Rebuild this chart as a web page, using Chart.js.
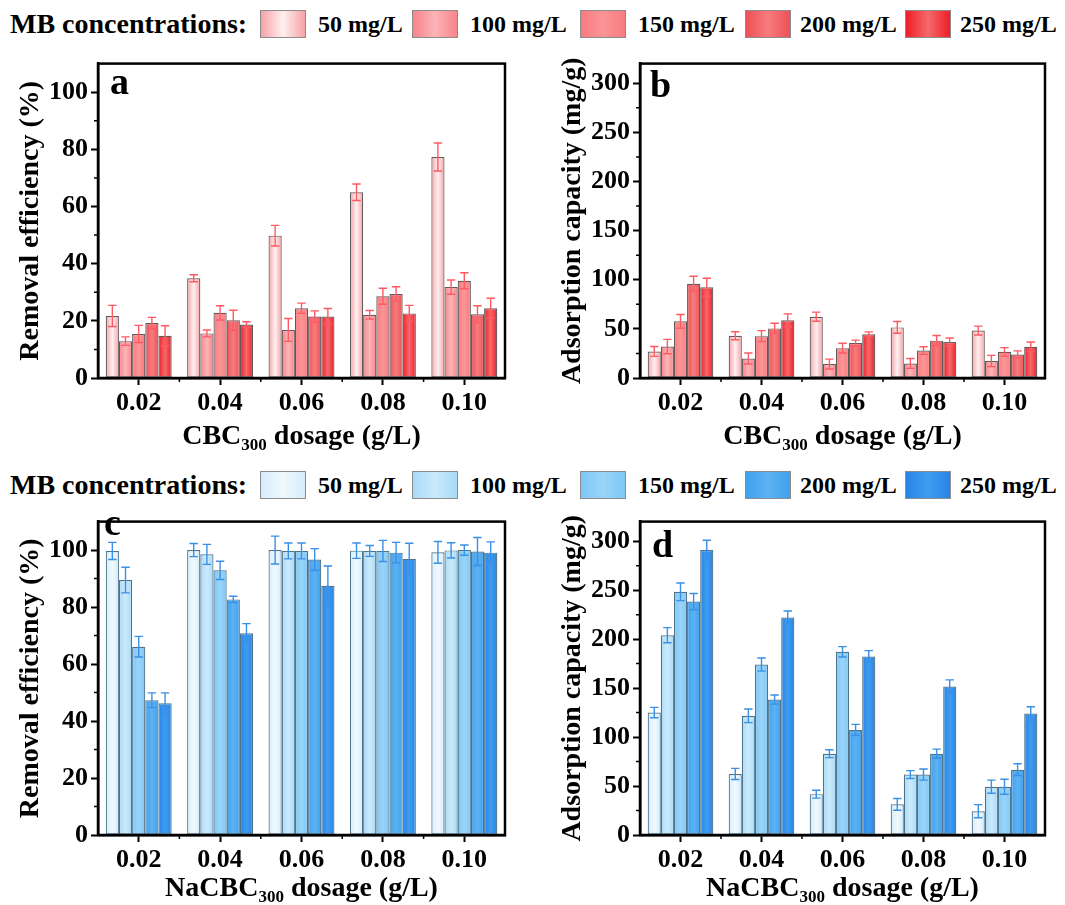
<!DOCTYPE html>
<html>
<head>
<meta charset="utf-8">
<script src="https://cdn.jsdelivr.net/npm/chart.js@4.4.1/dist/chart.umd.min.js"></script>
<style>
body { margin: 0; background: #fff; width: 1065px; height: 905px; position: relative; overflow: hidden;
       font-family: 'Liberation Serif', 'Times New Roman', serif; font-weight: bold; color: #000; }
.panel { position: absolute; }
.legend { position: absolute; left: 0; width: 1065px; height: 30px; }
.legend span { position: absolute; top: 0; line-height: 28px; white-space: nowrap; font-size: 24px; }
.legend .head { font-size: 28px; }
.legend .sw { position: absolute; top: 0; width: 46px; height: 28px; box-sizing: border-box; border: 1px solid #8c8c8c; }
</style>
</head>
<body>
<div class="legend" id="legTop" style="top:10px"></div>
<div class="legend" id="legBot" style="top:471px"></div>
<div class="panel" style="left:0;top:45px"><canvas id="pa" width="520" height="415"></canvas></div>
<div class="panel" style="left:540px;top:45px"><canvas id="pb" width="525" height="415"></canvas></div>
<div class="panel" style="left:0;top:503px"><canvas id="pc" width="520" height="402"></canvas></div>
<div class="panel" style="left:540px;top:503px"><canvas id="pd" width="525" height="402"></canvas></div>
<script>
// dosages on the x axis, MB concentrations as series
var dosages = ['0.02', '0.04', '0.06', '0.08', '0.10'];
var concentrations = ['50 mg/L', '100 mg/L', '150 mg/L', '200 mg/L', '250 mg/L'];

// a: CBC300 removal efficiency (%), one row per concentration
var removalCBC = [
    [21.7, 34.9, 49.8, 65.0, 77.3],
    [12.9, 15.6, 16.8, 22.1, 31.8],
    [15.4, 22.8, 24.4, 28.6, 34.0],
    [19.2, 20.2, 21.5, 29.4, 22.3],
    [14.8, 18.7, 21.5, 22.6, 24.4]
];
var removalCBCErr = [
    [3.7, 1.2, 3.6, 2.9, 4.9],
    [1.5, 1.2, 4.0, 1.5, 2.5],
    [3.0, 2.5, 1.8, 2.8, 2.8],
    [2.0, 3.5, 2.0, 2.5, 3.0],
    [3.5, 1.0, 2.8, 2.8, 3.5]
];

// b: CBC300 adsorption capacity (mg/g)
var capacityCBC = [
    [27.0, 43.0, 62.4, 51.5, 48.3],
    [32.0, 19.8, 14.2, 14.8, 17.3],
    [57.7, 42.6, 30.4, 27.9, 26.6],
    [96.0, 50.5, 35.6, 38.0, 23.9],
    [92.4, 58.7, 44.6, 36.7, 31.8]
];
var capacityCBCErr = [
    [5.0, 4.0, 4.6, 6.0, 4.5],
    [7.3, 5.6, 5.0, 5.0, 5.7],
    [7.0, 5.6, 5.0, 3.9, 4.3],
    [7.6, 5.3, 3.0, 5.3, 3.7],
    [9.2, 6.6, 2.3, 4.0, 4.9]
];

// c: NaCBC300 removal efficiency (%)
var removalNa = [
    [99.7, 100.0, 100.0, 99.8, 99.2],
    [89.5, 98.5, 99.7, 99.7, 99.9],
    [66.1, 92.9, 99.7, 99.7, 100.0],
    [47.3, 82.7, 96.7, 99.1, 99.5],
    [46.2, 70.8, 87.5, 96.9, 99.1]
];
var removalNaErr = [
    [3.0, 2.3, 4.9, 2.7, 3.8],
    [4.5, 3.5, 2.8, 1.9, 2.7],
    [3.6, 3.2, 2.8, 3.7, 1.8],
    [2.6, 1.1, 3.8, 3.6, 4.9],
    [3.7, 3.4, 6.9, 5.5, 3.8]
];

// d: NaCBC300 adsorption capacity (mg/g)
var capacityNa = [
    [125.0, 62.3, 41.7, 31.3, 24.3],
    [204.0, 121.7, 83.0, 61.7, 49.3],
    [248.3, 174.0, 187.0, 61.7, 49.3],
    [238.3, 138.3, 107.3, 83.0, 66.7],
    [291.0, 222.0, 182.3, 151.7, 124.0]
];
var capacityNaErr = [
    [5.3, 5.7, 4.0, 6.0, 6.7],
    [7.7, 7.0, 4.0, 4.0, 6.7],
    [9.0, 6.7, 5.3, 5.7, 7.7],
    [8.3, 4.7, 5.7, 4.7, 6.0],
    [10.0, 6.7, 6.0, 6.7, 7.0]
];

// [edge, centre] colours of each bar's shading
var reds = [
    ['#f6a2a7', '#fff0f0'],
    ['#f7838a', '#fcb5b7'],
    ['#f87b7e', '#fb9597'],
    ['#ee5156', '#f67c7e'],
    ['#ee1d26', '#f56a6d']
];
var blues = [
    ['#d5edfb', '#f0f9fe'],
    ['#a8daf8', '#cbeafb'],
    ['#7ec7f6', '#9ad4f8'],
    ['#40a1ee', '#5cb2f2'],
    ['#2985e6', '#3e9cef']
];

var FONT = "'Liberation Serif', 'Times New Roman', serif";
var CAT_PCT = 0.81;

function buildLegend(id, pal) {
    var el = document.getElementById(id);
    var html = '<span class="head" style="left:10px">MB concentrations:</span>';
    var swX = [260, 412, 580, 745, 905];
    var txtX = [318, 470, 638, 800, 960];
    for (var i = 0; i < concentrations.length; i++) {
        var g = 'linear-gradient(to right,' + pal[i][0] + ',' + pal[i][1] + ',' + pal[i][0] + ')';
        html += '<div class="sw" style="left:' + swX[i] + 'px;background:' + g + '"></div>';
        html += '<span style="left:' + txtX[i] + 'px">' + concentrations[i] + '</span>';
    }
    el.innerHTML = html;
}
buildLegend('legTop', reds);
buildLegend('legBot', blues);

var panelDecor = {
    id: 'panelDecor',
    afterDatasetsDraw: function (chart, args, o) {
        var ctx = chart.ctx, y = chart.scales.y;
        ctx.save();
        ctx.strokeStyle = o.errColor;
        ctx.lineWidth = 1.4;
        chart.data.datasets.forEach(function (ds, i) {
            chart.getDatasetMeta(i).data.forEach(function (bar, j) {
                var v = ds.data[j], e = o.errors[i][j];
                var top = y.getPixelForValue(v + e), bot = y.getPixelForValue(v - e);
                var cap = bar.width * 0.32;
                ctx.beginPath();
                ctx.moveTo(bar.x, top); ctx.lineTo(bar.x, bot);
                ctx.moveTo(bar.x - cap, top); ctx.lineTo(bar.x + cap, top);
                ctx.moveTo(bar.x - cap, bot); ctx.lineTo(bar.x + cap, bot);
                ctx.stroke();
            });
        });
        ctx.restore();
    },
    afterDraw: function (chart, args, o) {
        var ctx = chart.ctx, a = chart.chartArea, y = chart.scales.y;
        ctx.save();
        ctx.strokeStyle = '#000';
        ctx.lineWidth = 2.5;
        ctx.strokeRect(a.left, a.top, a.right - a.left, a.bottom - a.top);
        // minor ticks
        ctx.lineWidth = 1.5;
        ctx.beginPath();
        for (var v = o.minorStep; v < y.max; v += o.minorStep * 2) {
            var py = y.getPixelForValue(v);
            ctx.moveTo(a.left, py); ctx.lineTo(a.left - 4, py);
        }
        var cw = (a.right - a.left) / dosages.length;
        for (var k = 1; k < dosages.length; k++) {
            var px = a.left + k * cw;
            ctx.moveTo(px, a.bottom); ctx.lineTo(px, a.bottom + 4);
        }
        ctx.stroke();
        // panel letter
        ctx.fillStyle = '#000';
        ctx.font = 'bold 38px ' + FONT;
        ctx.textBaseline = 'alphabetic';
        ctx.fillText(o.letter, a.left + o.letterX, a.top + o.letterY);
        // x title with subscript
        var big = 'bold 28px ' + FONT, small = 'bold 17px ' + FONT;
        var total = 0;
        o.xTitle.forEach(function (p) {
            ctx.font = p.sub ? small : big;
            total += ctx.measureText(p.t).width;
        });
        var cx = (a.left + a.right) / 2 - total / 2, by = a.bottom + o.xTitleDy;
        o.xTitle.forEach(function (p) {
            ctx.font = p.sub ? small : big;
            ctx.fillText(p.t, cx, p.sub ? by + 6 : by);
            cx += ctx.measureText(p.t).width;
        });
        ctx.restore();
    }
};

function makePanel(id, vals, errs, pal, errColor, cfg) {
    var datasets = vals.map(function (row, i) {
        return {
            label: concentrations[i],
            data: row,
            borderColor: cfg.border,
            borderWidth: 1.2,
            borderSkipped: false,
            backgroundColor: function (c) {
                var chart = c.chart, xs = chart.scales.x;
                if (c.type !== 'data' || !xs || !chart.chartArea) return pal[i][0];
                var cw = (xs.right - xs.left) / dosages.length;
                var gw = cw * CAT_PCT, bw = gw / vals.length;
                var left = xs.getPixelForValue(c.dataIndex) - gw / 2 + c.datasetIndex * bw;
                var g = chart.ctx.createLinearGradient(left, 0, left + bw, 0);
                g.addColorStop(0, pal[i][0]);
                g.addColorStop(0.5, pal[i][1]);
                g.addColorStop(1, pal[i][0]);
                return g;
            },
            categoryPercentage: CAT_PCT,
            barPercentage: 1.0
        };
    });
    var tickFont = { family: FONT, size: 26, weight: 'bold' };
    return new Chart(document.getElementById(id), {
        type: 'bar',
        data: { labels: dosages, datasets: datasets },
        plugins: [panelDecor],
        options: {
            responsive: false,
            animation: false,
            layout: { padding: { top: cfg.padTop, right: cfg.padRight, left: 0, bottom: 0 } },
            plugins: {
                legend: { display: false },
                tooltip: { enabled: false },
                panelDecor: {
                    errors: errs, errColor: errColor, minorStep: cfg.step / 2,
                    letter: cfg.letter, letterX: cfg.letterX, letterY: cfg.letterY,
                    xTitle: cfg.xTitle, xTitleDy: cfg.xTitleDy
                }
            },
            scales: {
                x: {
                    offset: true,
                    grid: { offset: false, drawOnChartArea: false, tickLength: 7, tickWidth: 2, tickColor: '#000' },
                    border: { display: true, color: '#000', width: 2.5 },
                    ticks: { color: '#000', font: tickFont, padding: 3, maxRotation: 0 },
                    afterFit: function (s) { s.height = cfg.xH; }
                },
                y: {
                    min: 0,
                    max: cfg.max,
                    grid: { drawOnChartArea: false, tickLength: 7, tickWidth: 2, tickColor: '#000' },
                    border: { display: true, color: '#000', width: 2.5 },
                    ticks: { stepSize: cfg.step, includeBounds: false, color: '#000', font: tickFont, padding: 3 },
                    title: {
                        display: true, text: cfg.yTitle, color: '#000',
                        font: { family: FONT, size: 28, weight: 'bold' },
                        padding: { top: cfg.yTitlePad, bottom: 0 }
                    },
                    afterFit: function (s) { s.width = cfg.yW; }
                }
            }
        }
    });
}

var cbcTitle = [{ t: 'CBC', sub: false }, { t: '300', sub: true }, { t: ' dosage (g/L)', sub: false }];
var naTitle = [{ t: 'NaCBC', sub: false }, { t: '300', sub: true }, { t: ' dosage (g/L)', sub: false }];

makePanel('pa', removalCBC, removalCBCErr, reds, '#ff5a64', {
    max: 110, step: 20, yTitle: 'Removal efficiency (%)', border: 'rgba(70,60,60,0.85)',
    padTop: 8, padRight: 15, yW: 98, xH: 82, yTitlePad: 14, xTitleDy: 66,
    letter: 'a', letterX: 12, letterY: 30, xTitle: cbcTitle
});
makePanel('pb', capacityCBC, capacityCBCErr, reds, '#ff5a64', {
    max: 320, step: 50, yTitle: 'Adsorption capacity (mg/g)', border: 'rgba(70,60,60,0.85)',
    padTop: 7, padRight: 20, yW: 100, xH: 82, yTitlePad: 16, xTitleDy: 66,
    letter: 'b', letterX: 10, letterY: 33, xTitle: cbcTitle
});
makePanel('pc', removalNa, removalNaErr, blues, '#3a8fe6', {
    max: 110, step: 20, yTitle: 'Removal efficiency (%)', border: 'rgba(60,100,125,0.9)',
    padTop: 5, padRight: 15, yW: 98, xH: 70, yTitlePad: 14, xTitleDy: 61,
    letter: 'c', letterX: 6, letterY: 13, xTitle: naTitle
});
makePanel('pd', capacityNa, capacityNaErr, blues, '#3a8fe6', {
    max: 320, step: 50, yTitle: 'Adsorption capacity (mg/g)', border: 'rgba(60,100,125,0.9)',
    padTop: 7, padRight: 20, yW: 100, xH: 70, yTitlePad: 16, xTitleDy: 61,
    letter: 'd', letterX: 12, letterY: 35, xTitle: naTitle
});
</script>
</body>
</html>
